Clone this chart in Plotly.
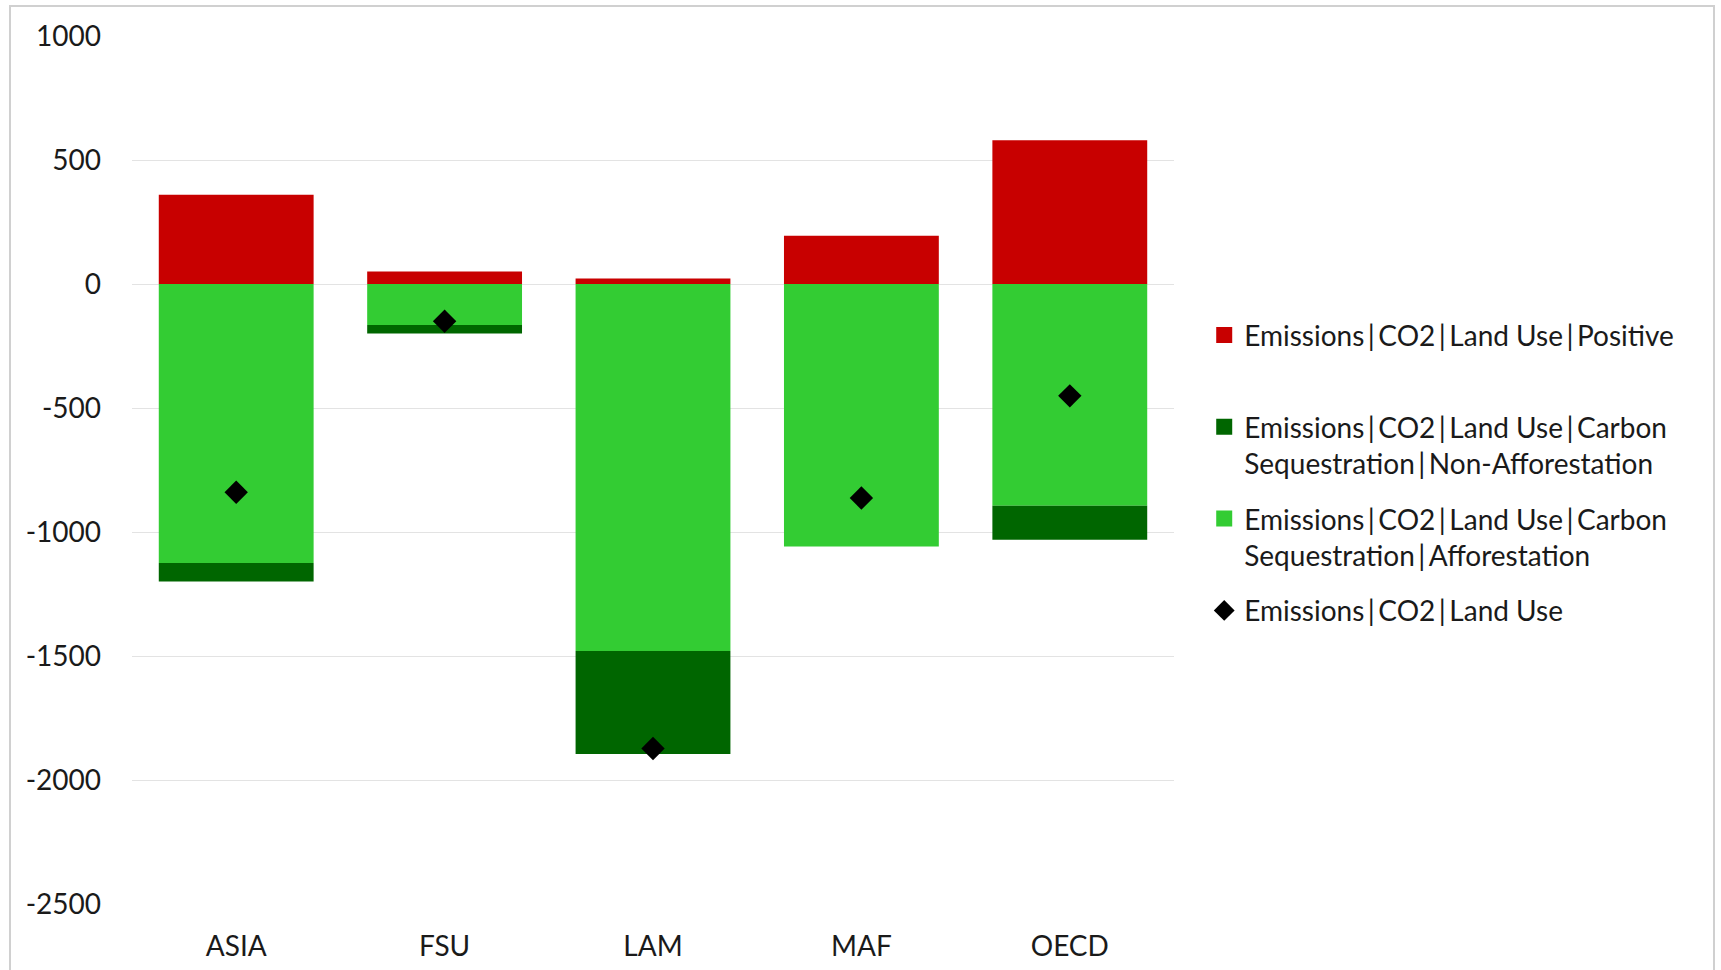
import plotly.graph_objects as go

regions = ["ASIA", "FSU", "LAM", "MAF", "OECD"]
positive = [360, 50, 22, 195, 580]
afforestation = [-1125, -165, -1480, -1058, -894]
non_afforestation = [-75, -35, -415, 0, -137]
land_use_net = [p + a + n for p, a, n in zip(positive, afforestation, non_afforestation)]

y_tick_values = [1000, 500, 0, -500, -1000, -1500, -2000, -2500]
y_tick_labels = ["1000", "500", "0", "-500", "-1000", "-1500", "-2000", "-2500"]

names = [
    "Emissions|CO2|Land Use|Positive",
    "Emissions|CO2|Land Use|Carbon<br>Sequestration|Non-Afforestation",
    "Emissions|CO2|Land Use|Carbon<br>Sequestration|Afforestation",
    "Emissions|CO2|Land Use",
]

RED = "#C80000"
DARK_GREEN = "#006600"
LIGHT_GREEN = "#33CC33"
FONT = "Lato"

W, H = 1721, 970
L, R, T, B = 132, 547, 36, 66


def spaced(label):
    # a little breathing room around the separators
    return label.replace("|", "\u2009|\u2009")


fig = go.Figure()

# stacked bars: positive above zero, afforestation nearest zero below, then non-afforestation
fig.add_trace(go.Bar(x=regions, y=positive, marker=dict(color=RED, line_width=0),
                     showlegend=False))
fig.add_trace(go.Bar(x=regions, y=afforestation, marker=dict(color=LIGHT_GREEN, line_width=0),
                     showlegend=False))
fig.add_trace(go.Bar(x=regions, y=non_afforestation, marker=dict(color=DARK_GREEN, line_width=0),
                     showlegend=False))
fig.add_trace(go.Scatter(x=regions, y=land_use_net, mode="markers",
                         marker=dict(symbol="diamond", size=18, color="black"),
                         showlegend=False))

# legend entries
legend_items = [
    (spaced(names[0]) + "<br> ", "square", RED),
    (spaced(names[1]), "square", DARK_GREEN),
    (spaced(names[2]), "square", LIGHT_GREEN),
    (spaced(names[3]), "diamond", "black"),
]
for i, (label, sym, col) in enumerate(legend_items):
    fig.add_trace(go.Scatter(x=[None], y=[None], mode="markers", name=label,
                             legendgroup=f"g{i}",
                             marker=dict(symbol=sym, size=16, color=col)))

fig.update_layout(
    width=W, height=H,
    margin=dict(l=L, r=R, t=T, b=B, autoexpand=False),
    paper_bgcolor="white", plot_bgcolor="white",
    barmode="relative", bargap=0.257,
    font=dict(family=FONT, size=28, color="#1a1a1a"),
    showlegend=True,
    legend=dict(x=1.029, xanchor="left", y=0.684, yanchor="top",
                valign="top", tracegroupgap=16, traceorder="grouped",
                font=dict(family=FONT, size=28, color="#1a1a1a"),
                bgcolor="rgba(0,0,0,0)"),
    xaxis=dict(showgrid=False, showline=False, zeroline=False, ticks="",
               automargin=False, ticklabelstandoff=23, tickfont=dict(size=28)),
    yaxis=dict(range=[-2500, 1000], tickvals=y_tick_values, ticktext=y_tick_labels,
               automargin=False,
               showgrid=True, gridcolor="#E3E3E3", gridwidth=1,
               zeroline=True, zerolinecolor="#E3E3E3", zerolinewidth=1,
               showline=False, ticks="", ticklabelstandoff=30, tickfont=dict(size=28)),
)

# chart border
fig.add_shape(type="rect", xref="paper", yref="paper",
              x0=(10 - L) / (W - L - R), x1=(1714 - L) / (W - L - R),
              y0=(H - B - 990) / (H - T - B), y1=(H - B - 6) / (H - T - B),
              line=dict(color="#D0D0D0", width=2), fillcolor="rgba(0,0,0,0)", layer="below")

fig.write_html("out.html")
